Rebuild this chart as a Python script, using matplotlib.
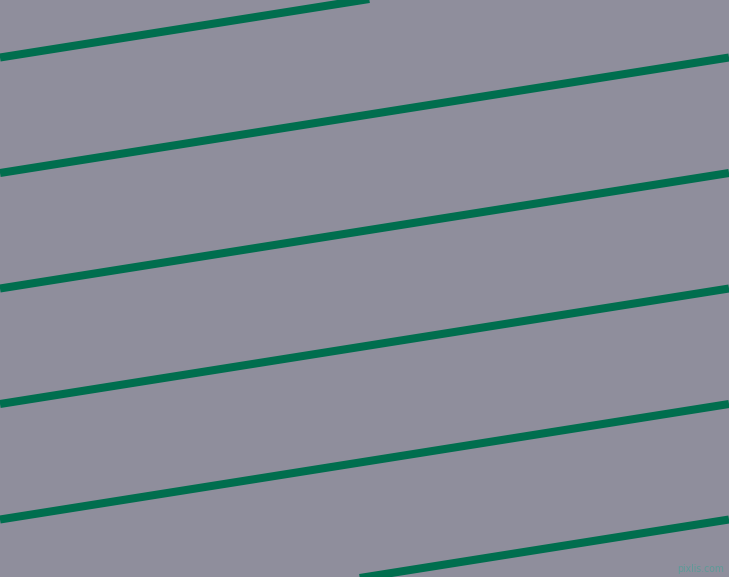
import matplotlib
matplotlib.use("Agg")
import matplotlib.pyplot as plt
import numpy as np

# Data (pixel-space chart)
line_intercepts = [57.5, 173.0, 288.5, 404.0, 519.5, 635.0]  # y at left edge
line_drop = 115.5          # y decrease across the full width
width_px = 729
height_px = 577
bg_color = "#8f8e9c"
line_color = "#006e4e"

fig = plt.figure(figsize=(width_px / 100, height_px / 100), dpi=100)
ax = fig.add_axes([0, 0, 1, 1])
ax.set_facecolor(bg_color)
fig.patch.set_facecolor(bg_color)

x = np.array([0, width_px])
for c in line_intercepts:
    ax.plot(x, [c, c - line_drop], color=line_color, lw=5.8, solid_capstyle="butt")

ax.set_xlim(0, width_px)
ax.set_ylim(height_px, 0)
ax.axis("off")

ax.text(701, 569, "pixlis.com", color="#5e9a98", fontsize=7.5,
        fontstretch="condensed", family="DejaVu Sans",
        ha="center", va="center")

fig.savefig("out.png", dpi=100, facecolor=bg_color)
